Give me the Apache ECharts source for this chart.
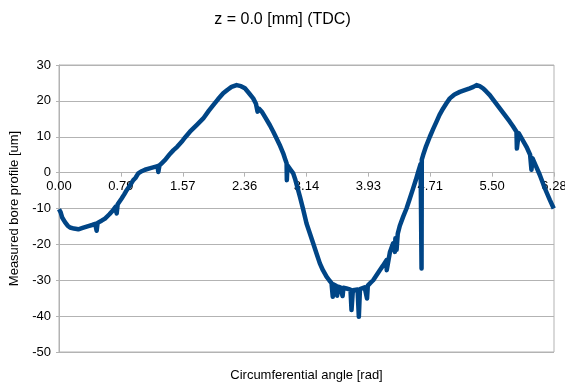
<!DOCTYPE html>
<html>
<head>
<meta charset="utf-8">
<script src="https://cdn.jsdelivr.net/npm/echarts@6/dist/echarts.min.js"></script>
<style>
  html, body { margin: 0; padding: 0; background: #fff; }
  #chart { width: 565px; height: 383px; }
</style>
</head>
<body>
<div id="chart"></div>
<script>
// angle [rad] and measured profile [um]
const angles = [
  0.000, 0.020, 0.040, 0.076, 0.110, 0.140, 0.190, 0.245, 0.300, 0.372,
  0.420, 0.460, 0.478, 0.490, 0.540, 0.584, 0.640, 0.689, 0.720, 0.732,
  0.745, 0.795, 0.830, 0.859, 0.900, 0.943, 0.970, 1.006, 1.050, 1.091,
  1.150, 1.218, 1.250, 1.261, 1.275, 1.303, 1.350, 1.408, 1.450, 1.500,
  1.557, 1.600, 1.662, 1.750, 1.831, 1.900, 1.958, 2.020, 2.084, 2.140,
  2.190, 2.254, 2.310, 2.360, 2.410, 2.465, 2.500, 2.520, 2.540, 2.580,
  2.620, 2.677, 2.720, 2.762, 2.800, 2.846, 2.870, 2.889, 2.892, 2.900,
  2.940, 2.973, 3.000, 3.058, 3.100, 3.142, 3.190, 3.226, 3.270, 3.311,
  3.350, 3.396, 3.430, 3.459, 3.475, 3.490, 3.520, 3.530, 3.543, 3.570,
  3.600, 3.610, 3.650, 3.700, 3.713, 3.730, 3.755, 3.790, 3.806, 3.820,
  3.840, 3.880, 3.910, 3.920, 3.950, 3.988, 4.030, 4.072, 4.110, 4.157,
  4.160, 4.200, 4.241, 4.263, 4.270, 4.285, 4.300, 4.326, 4.370, 4.411,
  4.450, 4.495, 4.530, 4.559, 4.590, 4.602, 4.605, 4.622, 4.660, 4.707,
  4.750, 4.792, 4.830, 4.876, 4.920, 4.961, 5.020, 5.088, 5.150, 5.214,
  5.260, 5.300, 5.340, 5.383, 5.420, 5.468, 5.530, 5.595, 5.660, 5.722,
  5.760, 5.807, 5.812, 5.835, 5.880, 5.934, 5.980, 5.997, 6.010, 6.050,
  6.102, 6.150, 6.187, 6.230, 6.280
];
const profile = [
  -10.2, -11.0, -12.5, -13.8, -14.8, -15.3, -15.6, -15.8, -15.4, -14.9,
  -14.6, -14.3, -16.2, -14.0, -13.4, -12.8, -11.6, -10.4, -9.5, -11.4,
  -8.8, -7.2, -6.0, -4.9, -3.6, -2.1, -1.5, -0.2, 0.4, 0.8,
  1.2, 1.6, 1.8, 0.2, 2.0, 2.6, 3.6, 5.2, 6.2, 7.2,
  8.6, 9.8, 11.4, 13.3, 15.1, 17.2, 18.8, 20.5, 22.1, 23.1,
  23.9, 24.4, 24.1, 23.5, 22.2, 20.7, 19.2, 17.0, 17.8, 16.8,
  15.3, 13.2, 11.4, 9.5, 7.8, 5.4, 3.8, 2.6, -2.1, 2.0,
  0.8, -0.2, -2.0, -6.7, -10.3, -14.2, -17.3, -19.7, -22.6, -25.3,
  -27.2, -29.0, -30.0, -30.8, -34.6, -31.2, -31.6, -34.3, -31.8, -32.0,
  -34.4, -32.1, -32.3, -32.6, -38.3, -32.8, -32.8, -32.6, -40.2, -32.5,
  -32.3, -32.0, -35.1, -31.5, -30.8, -30.0, -28.6, -27.2, -26.0, -24.4,
  -27.2, -22.2, -19.7, -22.1, -18.3, -21.5, -17.0, -14.8, -12.2, -10.0,
  -7.4, -4.4, -2.0, 0.2, 2.4, -26.7, 3.6, 4.9, 7.4, 10.0,
  12.2, 14.2, 16.1, 17.9, 19.4, 20.7, 21.8, 22.5, 23.0, 23.5,
  23.9, 24.4, 24.1, 23.5, 22.7, 21.6, 19.8, 17.9, 16.0, 14.2,
  13.0, 11.4, 6.7, 11.0, 9.3, 7.2, 5.0, 0.8, 4.0, 2.0,
  -0.6, -3.4, -5.4, -7.6, -10.0
];
const xTickLabels = ['0.00', '0.79', '1.57', '2.36', '3.14', '3.93', '4.71', '5.50', '6.28'];

const step = Math.PI / 4;
const font = 'Liberation Sans, Arial, sans-serif';
const gridColor = '#b3b3b3';
const yMin = -50, yMax = 30;
const gridTop = 65, gridBottom = 31, chartH = 383;
// lift the x axis from the bottom edge up to the y = 0 line
const plotH = chartH - gridTop - gridBottom;
const zeroLift = plotH * (0 - yMin) / (yMax - yMin);

const chart = echarts.init(document.getElementById('chart'));
chart.setOption({
  animation: false,
  textStyle: { fontFamily: font },
  title: {
    text: 'z = 0.0 [mm] (TDC)',
    left: 'center',
    top: 7,
    textStyle: { fontSize: 16, fontWeight: 'normal', color: '#000', fontFamily: font },
  },
  grid: {
    left: 59, right: 11, top: gridTop, bottom: gridBottom,
    outerBoundsMode: 'none',
    containLabel: false,
    show: true, borderColor: gridColor, borderWidth: 1,
  },
  xAxis: {
    type: 'value',
    min: 0,
    max: step * 8,
    interval: step,
    position: 'bottom',
    offset: -zeroLift,
    name: 'Circumferential angle [rad]',
    nameLocation: 'middle',
    nameGap: 196,
    nameTextStyle: { fontSize: 13, color: '#000', fontFamily: font },
    axisLine: { show: true, onZero: false, lineStyle: { color: gridColor } },
    axisTick: { show: true, length: 4, lineStyle: { color: gridColor } },
    splitLine: { show: false },
    axisLabel: {
      fontSize: 13, color: '#000', margin: 7, showMaxLabel: true, showMinLabel: true,
      formatter: v => xTickLabels[Math.round(v / step)] ?? '',
    },
  },
  yAxis: {
    type: 'value',
    min: yMin,
    max: yMax,
    interval: 10,
    name: 'Measured bore profile [um]',
    nameLocation: 'middle',
    nameGap: 33,
    nameTextStyle: { fontSize: 13, color: '#000', fontFamily: font },
    axisLine: { show: true, onZero: false, lineStyle: { color: gridColor } },
    axisTick: { show: true, length: 3, lineStyle: { color: gridColor } },
    splitLine: { lineStyle: { color: gridColor } },
    axisLabel: { fontSize: 13, color: '#000', margin: 8 },
  },
  series: [{
    type: 'line',
    z: 5,
    data: angles.map((a, i) => [a, profile[i]]),
    showSymbol: false,
    symbol: 'none',
    lineStyle: { color: '#004586', width: 4.5, join: 'round' },
  }],
});
</script>
</body>
</html>
